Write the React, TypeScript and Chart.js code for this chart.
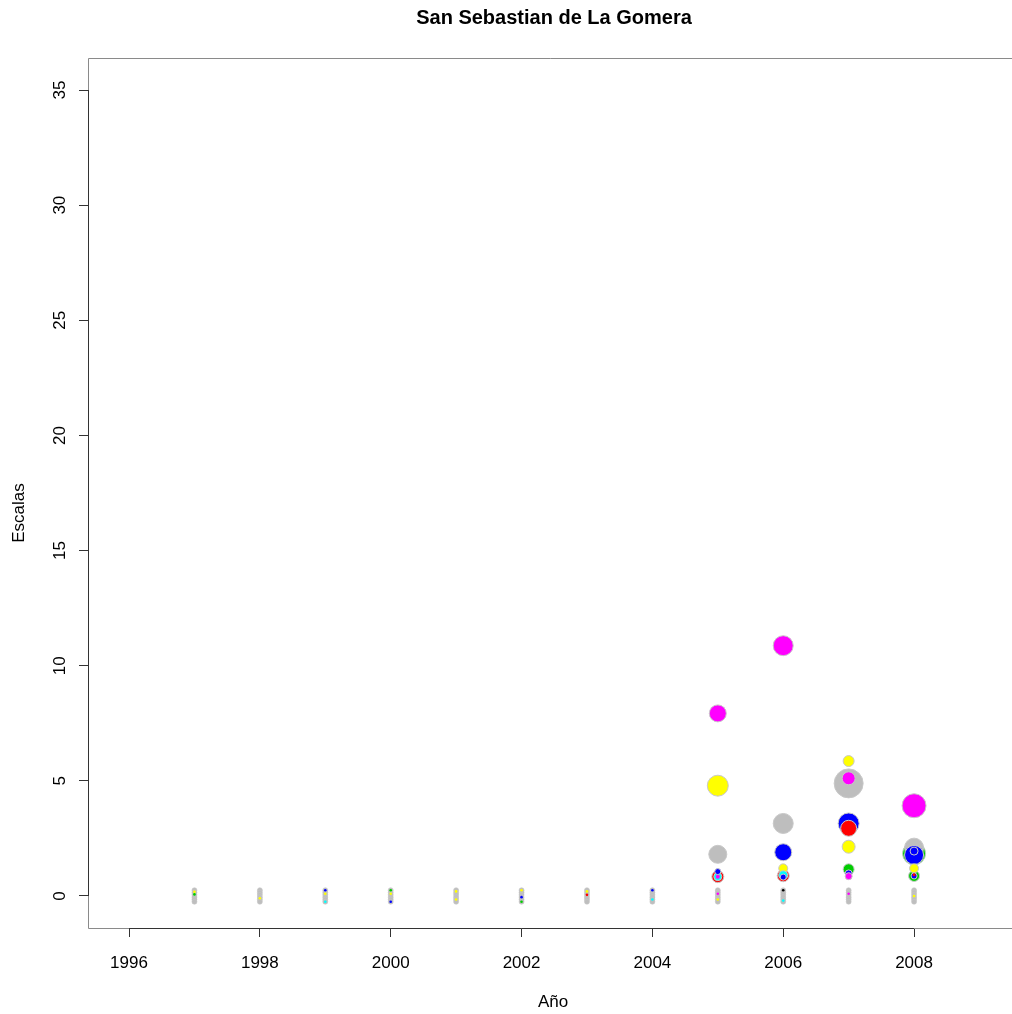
import React, { useEffect, useRef } from "react";
import { Chart, registerables } from "chart.js";

Chart.register(...registerables);

const TITLE = "San Sebastian de La Gomera";
const X_TITLE = "Año";
const Y_TITLE = "Escalas";

const xTicks = [1996, 1998, 2000, 2002, 2004, 2006, 2008];
const yTicks = [0, 5, 10, 15, 20, 25, 30, 35];

// [year, escalas, bubble size]
const magentaPts = [
  [2005, 7.93, 8.5],
  [2006, 10.87, 10],
  [2007, 5.11, 6.5],
  [2008, 3.92, 12],
  [2005, 0.84, 2],
  [2007, 0.86, 3.5],
];
const yellowPts = [
  [2005, 4.79, 10.5],
  [2006, 1.2, 4.5],
  [2007, 5.86, 5.5],
  [2007, 2.14, 6.5],
  [2008, 1.2, 4.5],
];
const grayPts = [
  [2005, 1.81, 9],
  [2006, 3.15, 10],
  [2007, 4.89, 14.5],
  [2008, 2.1, 9.5],
];
const bluePts = [
  [2005, 1.06, 3],
  [2006, 1.9, 8.5],
  [2006, 0.82, 3],
  [2007, 3.15, 10.5],
  [2007, 0.98, 3.5],
  [2008, 1.78, 9.5],
  [2008, 1.95, 4],
  [2008, 0.87, 3],
];
const redPts = [
  [2005, 0.84, 6],
  [2006, 0.88, 6],
  [2007, 2.94, 8],
  [2008, 0.92, 1.5],
];
const greenPts = [
  [2007, 1.16, 5.5],
  [2008, 1.85, 11.5],
  [2008, 0.87, 5.5],
];
const cyanPts = [
  [2005, 0.84, 4],
  [2006, 0.9, 4.5],
];

// near-zero values, each year
const stripYears = [1997, 1998, 1999, 2000, 2001, 2002, 2003, 2004, 2005, 2006, 2007, 2008];
const stripLevels = [0.25, 0.15, 0.05, -0.05, -0.15, -0.25];
const stripSize = 2.5;
// [year, escalas, colour name]
const stripDots = [
  [1997, 0.18, "yellow"], [1997, 0.07, "green"],
  [1998, -0.1, "yellow"],
  [1999, 0.25, "blue"], [1999, 0.1, "yellow"], [1999, -0.25, "cyan"],
  [2000, 0.25, "green"], [2000, 0.1, "yellow"], [2000, -0.25, "blue"],
  [2001, 0.2, "yellow"], [2001, -0.15, "yellow"],
  [2002, 0.25, "yellow"], [2002, -0.05, "blue"], [2002, -0.25, "green"],
  [2003, 0.2, "yellow"], [2003, 0.05, "red"],
  [2004, 0.25, "blue"], [2004, -0.15, "cyan"],
  [2005, 0.1, "magenta"], [2005, -0.15, "yellow"],
  [2006, 0.25, "black"], [2006, -0.2, "cyan"],
  [2007, 0.1, "magenta"],
  [2008, 0.0, "yellow"],
];

const COLORS: Record<string, string> = {
  magenta: "#FF00FF",
  yellow: "#FFFF00",
  gray: "#BEBEBE",
  blue: "#0000FF",
  red: "#FF0000",
  green: "#00CD00",
  cyan: "#00FFFF",
  black: "#000000",
};

function buildPoints() {
  const pts: { x: number; y: number; r: number; c: string; b: number }[] = [];
  const add = (arr: any[], name: string) =>
    arr.forEach((p) => pts.push({ x: p[0], y: p[1], r: p[2], c: COLORS[name], b: p[2] <= 2 ? 0 : 1 }));
  add(grayPts, "gray");
  add(greenPts, "green");
  add(bluePts, "blue");
  add(redPts, "red");
  add(yellowPts, "yellow");
  add(magentaPts, "magenta");
  add(cyanPts, "cyan");
  pts.sort((a, b) => b.r - a.r);
  const strip: typeof pts = [];
  stripYears.forEach((yr) =>
    stripLevels.forEach((lv) => strip.push({ x: yr, y: lv, r: stripSize, c: COLORS.gray, b: 0.6 }))
  );
  const dots = stripDots.map((d: any) => ({ x: d[0], y: d[1], r: 1.3, c: COLORS[d[2]], b: 0 }));
  return [...strip, ...dots, ...pts];
}

const FONT = "'Liberation Sans', Arial, Helvetica, sans-serif";

const decor = {
  id: "rdecor",
  afterDraw(chart: any) {
    const { ctx, chartArea, scales, width } = chart;
    const { left, top, bottom } = chartArea;
    const x = scales.x;
    const y = scales.y;
    ctx.save();
    // box
    ctx.strokeStyle = "#8a8a8a";
    ctx.lineWidth = 1;
    ctx.beginPath();
    ctx.moveTo(width + 2, top + 0.5);
    ctx.lineTo(left + 0.5, top + 0.5);
    ctx.lineTo(left + 0.5, bottom + 0.5);
    ctx.lineTo(width + 2, bottom + 0.5);
    ctx.stroke();
    // axis lines
    ctx.strokeStyle = "#333";
    ctx.beginPath();
    ctx.moveTo(Math.round(x.getPixelForValue(xTicks[0])), bottom + 0.5);
    ctx.lineTo(Math.round(x.getPixelForValue(xTicks[xTicks.length - 1])), bottom + 0.5);
    ctx.moveTo(left + 0.5, Math.round(y.getPixelForValue(yTicks[0])));
    ctx.lineTo(left + 0.5, Math.round(y.getPixelForValue(yTicks[yTicks.length - 1])));
    ctx.stroke();
    // y tick labels, rotated
    ctx.fillStyle = "#000";
    ctx.font = `17px ${FONT}`;
    ctx.textAlign = "center";
    ctx.textBaseline = "middle";
    yTicks.forEach((v) => {
      ctx.save();
      ctx.translate(60, y.getPixelForValue(v));
      ctx.rotate(-Math.PI / 2);
      ctx.fillText(String(v), 0, 0);
      ctx.restore();
    });
    // title
    ctx.font = `bold 20px ${FONT}`;
    ctx.fillText(TITLE, 554, 18);
    // axis titles
    ctx.font = `17px ${FONT}`;
    ctx.fillText(X_TITLE, 553, 1002);
    ctx.save();
    ctx.translate(19, 513);
    ctx.rotate(-Math.PI / 2);
    ctx.fillText(Y_TITLE, 0, 0);
    ctx.restore();
    ctx.restore();
  },
};

export default function App() {
  const ref = useRef<HTMLCanvasElement | null>(null);
  useEffect(() => {
    document.body.style.margin = "0";
    const pts = buildPoints();
    const chart = new Chart(ref.current as HTMLCanvasElement, {
      type: "bubble",
      data: {
        datasets: [
          {
            data: pts.map((p) => ({ x: p.x, y: p.y, r: p.r })),
            backgroundColor: pts.map((p) => p.c),
            borderColor: "#c8c8c8",
            borderWidth: pts.map((p) => p.b),
          },
        ],
      },
      options: {
        responsive: false,
        animation: false,
        devicePixelRatio: 1,
        layout: { autoPadding: false, padding: { top: 58, left: 0, right: 0, bottom: 0 } },
        plugins: { legend: { display: false }, tooltip: { enabled: false }, title: { display: false } },
        scales: {
          x: {
            type: "linear",
            min: 1995.373,
            max: 2009.497,
            afterBuildTicks: (s: any) => {
              s.ticks = xTicks.map((v) => ({ value: v }));
            },
            afterFit: (s: any) => {
              s.height = 86;
            },
            border: { display: false },
            grid: { drawOnChartArea: false, drawTicks: true, tickLength: 9, color: "#333", lineWidth: 1 },
            ticks: {
              color: "#000",
              font: { family: FONT, size: 17 },
              padding: 16,
              maxRotation: 0,
              autoSkip: false,
              callback: (v: any) => String(v),
            },
          },
          y: {
            type: "linear",
            min: -1.39,
            max: 36.39,
            afterBuildTicks: (s: any) => {
              s.ticks = yTicks.map((v) => ({ value: v }));
            },
            afterFit: (s: any) => {
              s.width = 88;
            },
            border: { display: false },
            grid: { drawOnChartArea: false, drawTicks: true, tickLength: 9, color: "#333", lineWidth: 1 },
            ticks: { display: false },
          },
        },
      },
      plugins: [decor],
    });
    return () => chart.destroy();
  }, []);
  return (
    <div style={{ width: 1012, height: 1014, background: "#fff" }}>
      <canvas ref={ref} width={1012} height={1014} style={{ width: 1012, height: 1014, display: "block" }} />
    </div>
  );
}
